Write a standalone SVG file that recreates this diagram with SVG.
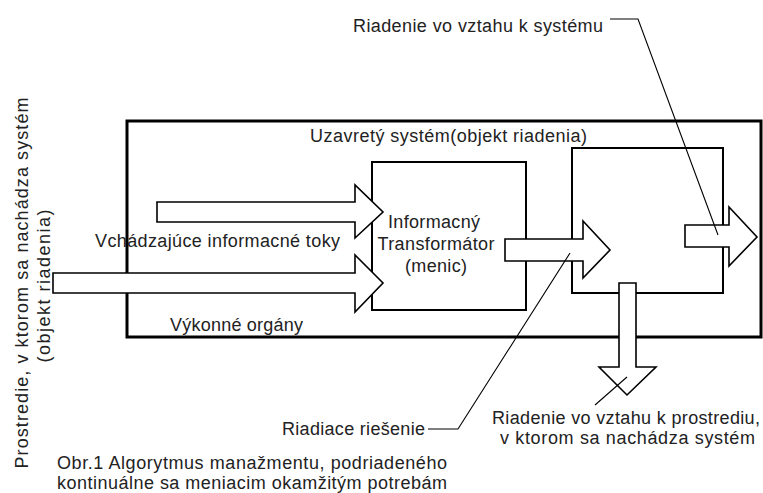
<svg xmlns="http://www.w3.org/2000/svg" width="763" height="493" viewBox="0 0 763 493">
<style>
  text { font-family: "Liberation Sans", Arial, sans-serif; font-size: 18px; fill: #222; }
  .box { fill: none; stroke: #000; stroke-width: 2; }
  .outer { fill: none; stroke: #000; stroke-width: 3; }
  .arrow { fill: #fff; stroke: #000; stroke-width: 1.6; stroke-linejoin: miter; }
  .lead { fill: none; stroke: #000; stroke-width: 1.1; }
</style>
<rect width="763" height="493" fill="#fff"/>

<g id="system">
  <rect class="outer" x="127" y="121" width="634" height="216"/>
  <text x="310" y="142" textLength="277" lengthAdjust="spacing">Uzavretý systém(objekt riadenia)</text>
  <text x="170" y="331" textLength="133" lengthAdjust="spacing">Výkonné orgány</text>
</g>

<g id="transformer">
  <rect class="box" x="372" y="162" width="154" height="148"/>
  <text x="434" y="228" text-anchor="middle" textLength="92" lengthAdjust="spacing">Informacný</text>
  <text x="436" y="250" text-anchor="middle" textLength="117" lengthAdjust="spacing">Transformátor</text>
  <text x="436" y="272" text-anchor="middle" textLength="62" lengthAdjust="spacing">(menic)</text>
</g>

<g id="executive">
  <rect class="box" x="572" y="148" width="151" height="145"/>
</g>

<g id="environment">
  <text transform="translate(28,283) rotate(-90)" text-anchor="middle" textLength="371" lengthAdjust="spacing">Prostredie, v ktorom sa nachádza systém</text>
  <text transform="translate(50,286) rotate(-90)" text-anchor="middle" textLength="153" lengthAdjust="spacing">(objekt riadenia)</text>
</g>

<g id="connectors">
  <polygon class="arrow" points="157,202 355,202 355,185 383,212 355,238 355,222 157,222"/>
  <polygon class="arrow" points="53,273 355,273 355,255 383,283 355,312 355,293 53,293"/>
  <polygon class="arrow" points="505,239 583,239 583,221 610,250 583,278 583,261 505,261"/>
  <polygon class="arrow" points="685,225 729,225 729,207 757,237 729,266 729,247 685,247"/>
  <polygon class="arrow" points="619,283 636,283 636,367 656,367 627,395 599,367 619,367"/>
  <polyline class="lead" points="610,19 638,19 718,235"/>
  <polyline class="lead" points="428,429 458,429 570,253"/>
  <line class="lead" x1="595" y1="405" x2="627" y2="377"/>
</g>

<g id="labels">
  <text x="95" y="247" textLength="245" lengthAdjust="spacing">Vchádzajúce informacné toky</text>
  <text x="353" y="32" textLength="250" lengthAdjust="spacing">Riadenie vo vztahu k systému</text>
  <text x="282" y="435" textLength="143" lengthAdjust="spacing">Riadiace riešenie</text>
  <text x="492" y="424" textLength="268" lengthAdjust="spacing">Riadenie vo vztahu k prostrediu,</text>
  <text x="500" y="444" textLength="255" lengthAdjust="spacing">v ktorom sa nachádza systém</text>
</g>

<g id="caption">
  <text x="57" y="469" textLength="390" lengthAdjust="spacing">Obr.1 Algorytmus manažmentu, podriadeného</text>
  <text x="57" y="489" textLength="390" lengthAdjust="spacing">kontinuálne sa meniacim okamžitým potrebám</text>
</g>
</svg>
